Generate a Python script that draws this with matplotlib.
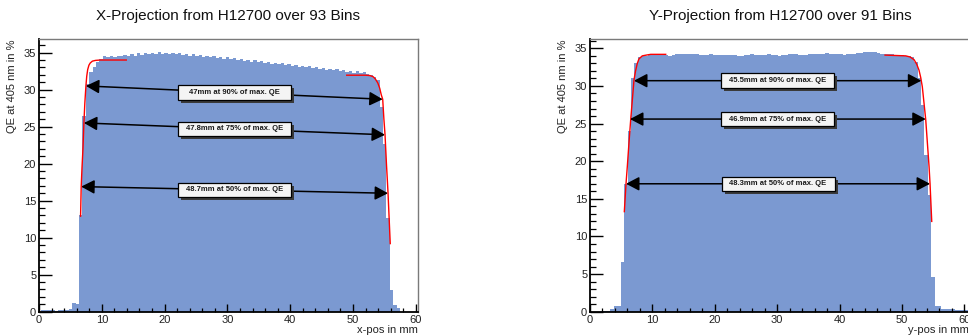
import numpy as np
import matplotlib
matplotlib.use("Agg")
import matplotlib.pyplot as plt
from matplotlib.patches import Rectangle
from matplotlib.ticker import MultipleLocator

plt.rcParams['font.family'] = ['Liberation Sans', 'DejaVu Sans']

# ---------------- data ----------------
titles = ["X-Projection from H12700 over 93 Bins", "Y-Projection from H12700 over 91 Bins"]
xlabels = ["x-pos in mm", "y-pos in mm"]
ylabel = "QE at 405 nm in %"

# left histogram (x projection): bin start / width and bin contents
x_bin_lo, x_bin_w = 0.385, 0.544
x_vals = [0.2, 0.2, 0.2, 0.2, 0.15, 0.2, 0.2, 0.2, 0.3,
          1.2, 1.0, 13.0, 26.5, 30.8, 32.4, 33.1, 33.7, 34.2,
          34.5, 34.4, 34.6, 34.4, 34.6, 34.5, 34.7, 34.5, 34.8, 34.6,
          34.9, 34.7, 35.0, 34.8, 35.0, 34.8, 35.05, 34.85, 35.0, 34.8,
          34.95, 34.75, 34.9, 34.65, 34.8, 34.6, 34.75, 34.5, 34.7, 34.45,
          34.6, 34.35, 34.5, 34.3, 34.45, 34.2, 34.35, 34.1, 34.25, 34.0,
          34.15, 33.9, 34.05, 33.8, 33.95, 33.7, 33.85, 33.6, 33.75, 33.5,
          33.65, 33.4, 33.55, 33.3, 33.45, 33.2, 33.35, 33.1, 33.25, 33.0,
          33.15, 32.9, 33.05, 32.8, 32.95, 32.7, 32.85, 32.6, 32.75, 32.5,
          32.65, 32.4, 32.55, 32.3, 32.45, 32.2, 32.35, 32.1, 32.0, 31.7,
          31.3, 27.7, 22.7, 12.7, 2.9, 0.9, 0.45, 0, 0, 0, 0, 0, 0]

# right histogram (y projection)
y_bin_lo, y_bin_w = 0.0, 0.5468
y_vals = [0, 0, 0, 0.05, 0.1, 0.15, 0.3, 0.75, 0.8,
          6.6, 17.0, 24.0, 31.0, 33.0, 33.8, 34.0,
          34.0, 34.05, 34.1, 34.15, 34.15, 34.1, 34.05, 34.0, 34.1, 34.2,
          34.25, 34.25, 34.3, 34.3, 34.25, 34.2, 34.15, 34.1, 34.15, 34.2,
          34.15, 34.1, 34.05, 34.1, 34.1, 34.15, 34.1, 34.0, 34.0, 34.1,
          34.15, 34.2, 34.15, 34.1, 34.1, 34.15, 34.2, 34.15, 34.05, 34.0,
          34.1, 34.15, 34.2, 34.25, 34.2, 34.1, 34.1, 34.15, 34.2, 34.25,
          34.3, 34.3, 34.3, 34.35, 34.3, 34.25, 34.2, 34.2, 34.15, 34.2,
          34.25, 34.3, 34.35, 34.4, 34.45, 34.5, 34.5, 34.45, 34.4, 34.3,
          34.25, 34.2, 34.2, 34.15, 34.1, 34.05, 34.0, 34.0, 33.8, 33.2,
          31.0, 27.5, 20.8, 15.5, 4.6, 0.8, 0.75, 0.4, 0.3, 0.3, 0.3,
          0.2, 0.2, 0.2, 0.2]

# fit curves (red)
x_fit_left_x = [6.62, 6.72, 6.85, 7.0, 7.15, 7.3, 7.47, 7.6, 7.75, 7.95, 8.16, 8.5, 9.0, 9.76, 13.9]
x_fit_left_y = [12.9, 16.9, 19.5, 22.0, 25.5, 28.2, 30.5, 31.8, 32.7, 33.3, 33.6, 33.85, 33.95, 34.0, 34.0]
x_fit_right_x = [49.0, 52.0, 52.7, 53.2, 53.55, 53.95, 54.25, 54.5, 54.73, 54.92, 55.1, 55.33, 55.58, 55.93]
x_fit_right_y = [31.95, 31.95, 31.9, 31.75, 31.45, 30.9, 30.2, 29.3, 28.7, 26.0, 23.9, 19.9, 16.0, 9.2]
y_fit_left_x = [5.5, 5.77, 5.98, 6.25, 6.52, 6.8, 7.05, 7.3, 7.58, 7.85, 8.38, 9.0, 9.73, 12.13]
y_fit_left_y = [13.3, 17.0, 19.3, 22.5, 25.5, 28.3, 30.8, 32.0, 33.0, 33.6, 34.0, 34.1, 34.2, 34.2]
y_fit_right_x = [47.28, 50.59, 51.3, 51.92, 52.35, 52.72, 53.0, 53.25, 53.8, 54.33, 54.49, 54.76]
y_fit_right_y = [34.1, 34.0, 33.85, 33.5, 32.9, 32.1, 31.1, 29.9, 25.5, 19.3, 17.0, 12.0]

# width arrows: left end (x, y), right end (x, y), label
x_arrows_xl = [7.47, 7.15, 6.72]
x_arrows_yl = [30.5, 25.5, 16.9]
x_arrows_xr = [54.73, 55.1, 55.58]
x_arrows_yr = [28.7, 23.9, 16.0]
x_arrow_labels = ["47mm at 90% of max. QE", "47.8mm at 75% of max. QE", "48.7mm at 50% of max. QE"]

y_arrows_xl = [7.05, 6.41, 5.77]
y_arrows_yl = [30.7, 25.6, 17.0]
y_arrows_xr = [53.09, 53.8, 54.49]
y_arrows_yr = [30.7, 25.6, 17.0]
y_arrow_labels = ["45.5mm at 90% of max. QE", "46.9mm at 75% of max. QE", "48.3mm at 50% of max. QE"]

# ---------------- figure ----------------
W, H = 968, 336
fig = plt.figure(figsize=(W / 100, H / 100), dpi=100)

ax_bottom_px, ax_h_px = 24.3, 272.4
axL = fig.add_axes([39 / W, ax_bottom_px / H, 379 / W, ax_h_px / H])
axR = fig.add_axes([590 / W, ax_bottom_px / H, 378.8 / W, ax_h_px / H])

fill_col = '#7b99d1'

panels = [
    (axL, x_bin_lo, x_bin_w, x_vals, (0, 60.35), (0, 36.8),
     [(x_fit_left_x, x_fit_left_y), (x_fit_right_x, x_fit_right_y)],
     x_arrows_xl, x_arrows_yl, x_arrows_xr, x_arrows_yr, x_arrow_labels, 228),
    (axR, y_bin_lo, y_bin_w, y_vals, (0, 60.7), (0, 36.2),
     [(y_fit_left_x, y_fit_left_y), (y_fit_right_x, y_fit_right_y)],
     y_arrows_xl, y_arrows_yl, y_arrows_xr, y_arrows_yr, y_arrow_labels, 780),
]

box_w_px, box_h_px, shadow_px = 113, 14.5, 3

for i, (ax, lo, bw, vals, xl, yl, fits, axl, ayl, axr, ayr, labs, tx) in enumerate(panels):
    vals = np.asarray(vals, dtype=float)
    edges = lo + bw * np.arange(len(vals) + 1)
    ax.stairs(vals, edges, fill=True, color=fill_col, lw=0, zorder=1)
    for fx, fy in fits:
        ax.plot(fx, fy, color='red', lw=1.0, zorder=2)
    ax.set_xlim(*xl)
    ax.set_ylim(*yl)

    # pixel -> data conversion for fixed-size label boxes
    ax_w_px = ax.get_position().width * W
    dxpp = (xl[1] - xl[0]) / ax_w_px
    dypp = (yl[1] - yl[0]) / ax_h_px
    bwd, bhd = box_w_px * dxpp, box_h_px * dypp
    sxd, syd = shadow_px * dxpp, shadow_px * dypp

    for x0, y0, x1, y1, lab in zip(axl, ayl, axr, ayr, labs):
        ax.annotate('', xy=(x1, y1), xytext=(x0, y0),
                    arrowprops=dict(arrowstyle='<|-|>,head_length=0.8,head_width=0.42',
                                    mutation_scale=10, color='black', lw=1.1,
                                    shrinkA=0, shrinkB=0),
                    zorder=3)
        cx, cy = (x0 + x1) / 2, (y0 + y1) / 2
        ax.add_patch(Rectangle((cx - bwd / 2 + sxd, cy - bhd / 2 - syd), bwd, bhd,
                               facecolor='#3a3a3a', edgecolor='none', zorder=4))
        ax.add_patch(Rectangle((cx - bwd / 2, cy - bhd / 2), bwd, bhd,
                               facecolor='#f4f4f4', edgecolor='black', lw=0.9, zorder=5))
        ax.text(cx, cy, lab, ha='center', va='center', fontsize=5.5,
                fontweight='bold', color='#1a1a1a', zorder=6)

    # axes styling (ROOT-like)
    for s in ['left', 'bottom']:
        ax.spines[s].set_color('black')
        ax.spines[s].set_linewidth(1.3)
    for s in ['top', 'right']:
        ax.spines[s].set_color('#7a7a7a')
        ax.spines[s].set_linewidth(1.0)
    ax.xaxis.set_major_locator(MultipleLocator(10))
    ax.xaxis.set_minor_locator(MultipleLocator(2))
    ax.yaxis.set_major_locator(MultipleLocator(5))
    ax.yaxis.set_minor_locator(MultipleLocator(1))
    ax.tick_params(axis='x', which='major', direction='in', length=5.8, width=1.0,
                   labelsize=8, pad=2.5, colors='black', labelcolor='#222222')
    ax.tick_params(axis='x', which='minor', direction='in', length=3.0, width=0.9)
    ax.tick_params(axis='y', which='major', direction='in', length=9.0, width=1.0,
                   labelsize=8, pad=2, colors='black', labelcolor='#222222')
    ax.tick_params(axis='y', which='minor', direction='in', length=4.5, width=0.9)
    ax.set_facecolor('white')

    # titles and axis labels
    fig.text(tx / W, 1 - 16 / H, titles[i], ha='center', va='center', fontsize=11,
             color='#111111')
    left_px = ax.get_position().x0 * W
    right_px = ax.get_position().x1 * W
    fig.text((left_px - 27) / W, 1 - 39.3 / H, ylabel, rotation=90, ha='center',
             va='top', fontsize=8, color='#222222')
    fig.text(right_px / W, 1 - 330 / H, xlabels[i], ha='right', va='center',
             fontsize=8, color='#222222')

fig.savefig('out.png', dpi=100)
